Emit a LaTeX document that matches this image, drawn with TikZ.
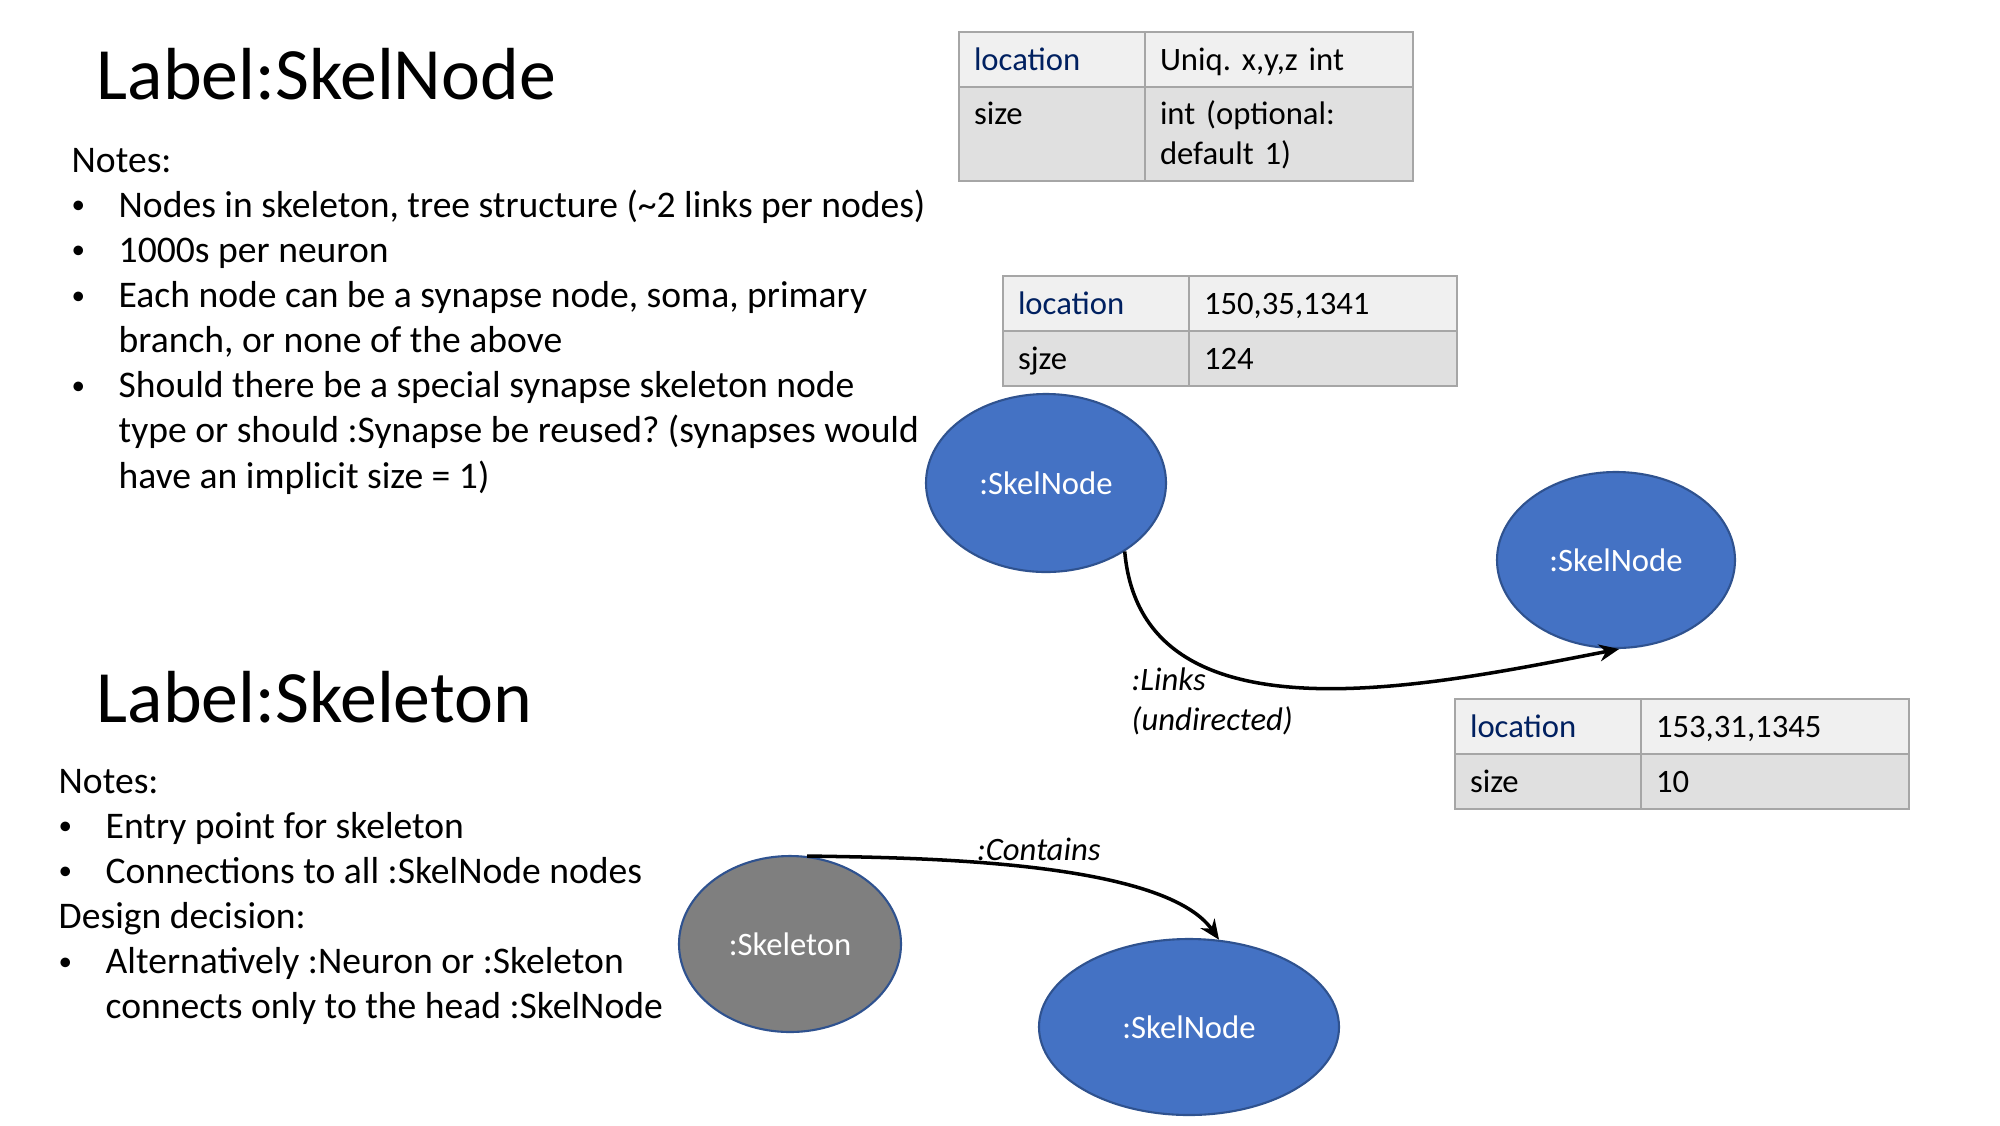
\documentclass[tikz,border=0pt]{standalone}
\usepackage{fontspec}
\setmainfont{Carlito}
\usepackage{tikz}
\usetikzlibrary{positioning,shapes.geometric,arrows.meta}
\definecolor{skelblue}{RGB}{68,114,196}
\definecolor{skelrim}{RGB}{47,82,143}
\definecolor{skelgray}{RGB}{127,127,127}
\definecolor{tblrim}{RGB}{166,166,166}
\definecolor{rowlight}{RGB}{240,240,240}
\definecolor{rowdark}{RGB}{224,224,224}
\definecolor{keyblue}{RGB}{0,32,96}
\frenchspacing
\newcommand{\dotmark}{\raisebox{0.09em}{\scalebox{0.72}{\textbullet}}}

\tikzset{
  title/.style={anchor=base west, inner sep=0pt, font=\fontsize{21}{25}\selectfont},
  notes/.style={anchor=base west, inner sep=0pt, font=\fontsize{10.7}{12.85}\selectfont},
  graphnode/.style={ellipse, draw=skelrim, line width=0.6pt, fill=skelblue, text=white,
    inner sep=0pt, font=\fontsize{9.3}{11.2}\selectfont},
  cell/.style={draw=tblrim, line width=0.7pt, outer sep=0pt, inner xsep=0.15cm, inner ysep=0pt,
    align=left, font=\fontsize{9.3}{11.4}\selectfont, text height=0.85em, text depth=0.2em,
    minimum height=0.55cm},
  keycell/.style={cell, text width=1.56cm, minimum width=1.86cm},
  valcell/.style={cell, text width=2.38cm, minimum width=2.68cm},
  tallrow/.style={minimum height=0.94cm, text depth=1.4em},
  rel/.style={line width=1pt, -{Stealth[length=2mm,width=1.7mm]}},
  rellabel/.style={font=\fontsize{9.3}{11.4}\selectfont\itshape}
}

\begin{document}
\begin{tikzpicture}
\fill[white] (0,0) rectangle (20,-11.25);
\useasboundingbox (0,0) rectangle (20,-11.25);

% Label:SkelNode
\node[title] (skelnodetitle) at (0.96,-0.995) {Label:SkelNode};
\node[notes] (skelnodenotes) at (0.71,-1.72) {\begin{tabular}[t]{@{}p{0.47cm}@{}l@{}}
\multicolumn{2}{@{}l@{}}{Notes:}\\
\dotmark & Nodes in skeleton, tree structure (\textasciitilde 2 links per nodes)\\
\dotmark & 1000s per neuron\\
\dotmark & Each node can be a synapse node, soma, primary\\
 & branch, or none of the above\\
\dotmark & Should there be a special synapse skeleton node\\
 & type or should :Synapse be reused? (synapses would\\
 & have an implicit size = 1)
\end{tabular}};

% Label:Skeleton
\node[title] (skeltitle) at (0.96,-7.22) {Label:Skeleton};
\node[notes] (skelnotes) at (0.58,-7.93) {\begin{tabular}[t]{@{}p{0.47cm}@{}l@{}}
\multicolumn{2}{@{}l@{}}{Notes:}\\
\dotmark & Entry point for skeleton\\
\dotmark & Connections to all :SkelNode nodes\\
\multicolumn{2}{@{}l@{}}{Design decision:}\\
\dotmark & Alternatively :Neuron or :Skeleton\\
 & connects only to the head :SkelNode
\end{tabular}};

% property tables
\node[keycell, fill=rowlight, text=keyblue, anchor=north west] (t1key1) at (9.59,-0.32) {location};
\node[valcell, fill=rowlight, right=0pt of t1key1] (t1val1) {Uniq. x,y,z int};
\node[keycell, fill=rowdark, tallrow, below=0pt of t1key1] (t1key2) {size};
\node[valcell, fill=rowdark, tallrow, right=0pt of t1key2] (t1val2) {int (optional:\\default 1)};

\node[keycell, fill=rowlight, text=keyblue, anchor=north west] (t2key1) at (10.03,-2.76) {location};
\node[valcell, fill=rowlight, right=0pt of t2key1] (t2val1) {150,35,1341};
\node[keycell, fill=rowdark, below=0pt of t2key1] (t2key2) {sjze};
\node[valcell, fill=rowdark, right=0pt of t2key2] (t2val2) {124};

\node[keycell, fill=rowlight, text=keyblue, anchor=north west] (t3key1) at (14.55,-6.99) {location};
\node[valcell, fill=rowlight, right=0pt of t3key1] (t3val1) {153,31,1345};
\node[keycell, fill=rowdark, below=0pt of t3key1] (t3key2) {size};
\node[valcell, fill=rowdark, right=0pt of t3key2] (t3val2) {10};

% graph nodes
\node[graphnode, minimum width=2.40cm, minimum height=1.78cm] (sn1) at (10.46,-4.83) {:SkelNode};
\node[graphnode, minimum width=2.38cm, minimum height=1.76cm] (sn2) at (16.16,-5.60) {:SkelNode};
\node[graphnode, fill=skelgray, minimum width=2.22cm, minimum height=1.76cm] (skel) at (7.90,-9.44) {:Skeleton};
\node[graphnode, minimum width=3.00cm, minimum height=1.76cm] (sn3) at (11.89,-10.27) {:SkelNode};

% relations
\draw[rel] (sn1.-41) to[out=-85,in=191] (sn2.-88);
\node[rellabel, anchor=base west, inner sep=0pt] (linkslbl) at (11.31,-6.90)
  {\begin{tabular}[t]{@{}l@{}}:Links\\(undirected)\end{tabular}};
\draw[rel] (skel.79) to[out=-1,in=125,looseness=0.6]
  node[rellabel, pos=0.52, above, inner sep=2pt] (containslbl) {:Contains} (sn3.71);
\end{tikzpicture}
\end{document}
